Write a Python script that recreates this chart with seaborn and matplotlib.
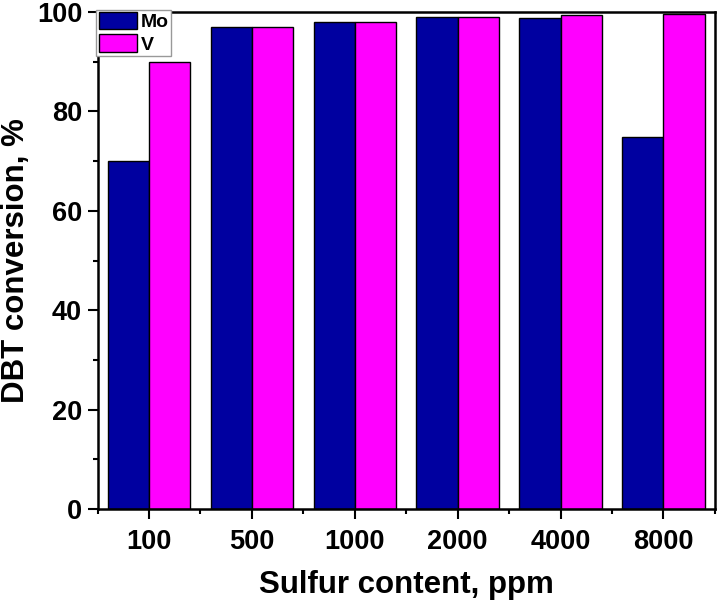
import pandas as pd
import matplotlib
matplotlib.use("Agg")
import matplotlib.pyplot as plt
from matplotlib.ticker import MultipleLocator, FixedLocator
import seaborn as sns

# data
sulfur = ["100", "500", "1000", "2000", "4000", "8000"]
mo_conv = [70.0, 97.0, 98.1, 99.1, 98.9, 74.8]
v_conv = [90.0, 97.0, 98.1, 99.1, 99.4, 99.7]

df = pd.DataFrame({
    "Sulfur": sulfur * 2,
    "Conversion": mo_conv + v_conv,
    "Catalyst": ["Mo"] * len(sulfur) + ["V"] * len(sulfur),
})

sns.set_style("ticks")
plt.rcParams["font.family"] = ["Liberation Sans", "DejaVu Sans"]
plt.rcParams["font.weight"] = "bold"
plt.rcParams["text.color"] = "black"
plt.rcParams["axes.labelcolor"] = "black"
plt.rcParams["xtick.color"] = "black"
plt.rcParams["ytick.color"] = "black"
plt.rcParams["axes.edgecolor"] = "black"

fig = plt.figure(figsize=(7.17, 6.04), dpi=100)
ax = fig.add_axes([0.136, 0.157, 0.861, 0.823])

sns.barplot(data=df, x="Sulfur", y="Conversion", hue="Catalyst",
            palette={"Mo": "#0000A0", "V": "#FF00FF"},
            width=0.8, edgecolor="black", linewidth=1.0,
            saturation=1, ax=ax)

ax.set_xlim(-0.5, 5.5)
ax.set_ylim(0, 100)
ax.yaxis.set_major_locator(MultipleLocator(20))
ax.yaxis.set_minor_locator(MultipleLocator(10))
ax.xaxis.set_minor_locator(FixedLocator([i + 0.5 for i in range(-1, 6)]))
ax.tick_params(axis="both", which="major", length=7, width=1.5,
               labelsize=19.5, direction="out")
ax.tick_params(axis="x", which="major", pad=7)
ax.tick_params(axis="y", which="major", pad=4)
ax.tick_params(axis="both", which="minor", length=3.5, width=1.5,
               direction="out")
for lab in ax.get_xticklabels() + ax.get_yticklabels():
    lab.set_fontweight("bold")
for sp in ax.spines.values():
    sp.set_linewidth(1.8)
    sp.set_visible(True)

ax.set_xlabel("Sulfur content, ppm", fontsize=22.5, fontweight="bold", labelpad=11)
ax.set_ylabel("DBT conversion, %", fontsize=22.5, fontweight="bold", labelpad=4)

leg = ax.legend(loc="upper left", bbox_to_anchor=(-0.002, 1.005), frameon=True,
                fancybox=False, edgecolor="#999999", framealpha=1,
                prop={"weight": "bold", "size": 14}, handlelength=2.0,
                handleheight=1.0, handletextpad=0.15, borderpad=0.12,
                labelspacing=0.15, borderaxespad=0)
leg.get_frame().set_linewidth(1.0)
leg.set_title(None)

fig.savefig("out.png", dpi=100)
